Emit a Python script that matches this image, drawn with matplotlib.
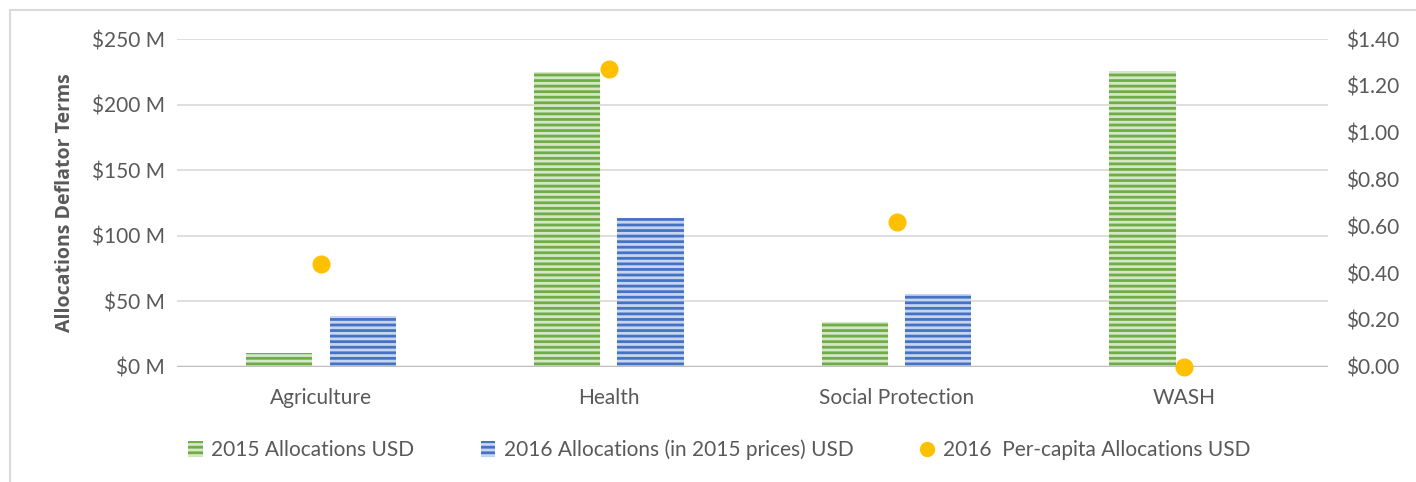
import numpy as np
import matplotlib.pyplot as plt
from matplotlib.lines import Line2D

# =========================
# DATA
# =========================
categories = ["Agriculture", "Health", "Social Protection", "WASH"]
alloc_2015 = [10.5, 225, 34, 226]          # $ M
alloc_2016 = [39, 113.5, 55.5, 0]          # $ M, in 2015 prices
per_capita_2016 = [0.44, 1.27, 0.62, 0.0]  # $

left_ticks = [0, 50, 100, 150, 200, 250]
right_ticks = [0.0, 0.2, 0.4, 0.6, 0.8, 1.0, 1.2, 1.4]

GREEN = "#70AD47"
GREEN_BG = "#D4E7C6"
BLUE = "#4472C4"
BLUE_BG = "#C8D5EF"
ORANGE = "#FFC000"
TXT = "#595959"
FS = 15

plt.rcParams["font.family"] = ["Lato", "DejaVu Sans"]
plt.rcParams["hatch.linewidth"] = 2.0

fig = plt.figure(figsize=(14.16, 4.82), dpi=100)
ax = fig.add_axes([0.125, 0.239, 0.813, 0.680])

x = np.arange(len(categories))
w = 0.23
off = 0.145

b1 = ax.bar(x - off, alloc_2015, w, color=GREEN_BG, edgecolor=GREEN,
            hatch="---", linewidth=0, zorder=3, label="2015 Allocations USD")
b2 = ax.bar(x + off, alloc_2016, w, color=BLUE_BG, edgecolor=BLUE,
            hatch="---", linewidth=0, zorder=3,
            label="2016 Allocations (in 2015 prices) USD")

ax.set_xlim(-0.5, len(categories) - 0.5)
ax.set_ylim(0, 250)
ax.set_yticks(left_ticks)
ax.set_yticklabels([f"${v} M" for v in left_ticks])
ax.set_xticks(x)
ax.set_xticklabels(categories)
ax.yaxis.grid(True, color="#D9D9D9", linewidth=1.2, zorder=0)
ax.set_axisbelow(True)
for s in ax.spines.values():
    s.set_visible(False)
ax.axhline(0, color="#BFBFBF", linewidth=2.5, zorder=4)
ax.tick_params(axis="both", length=0, labelsize=FS, colors=TXT)
ax.tick_params(axis="y", pad=9)
ax.tick_params(axis="x", pad=15)
ax.set_ylabel("Allocations Deflator Terms", fontsize=14, fontweight="bold",
              color=TXT, labelpad=12, family=["Open Sans", "DejaVu Sans"])

ax2 = ax.twinx()
ax2.plot(x, per_capita_2016, "o", color=ORANGE, markersize=12, zorder=5,
         clip_on=False)
ax2.set_ylim(0, 1.4)
ax2.set_yticks(right_ticks)
ax2.set_yticklabels([f"${v:.2f}" for v in right_ticks])
for s in ax2.spines.values():
    s.set_visible(False)
ax2.tick_params(axis="y", length=0, labelsize=FS, colors=TXT, pad=13)

dot = Line2D([], [], marker="o", linestyle="none", color=ORANGE, markersize=10)
fig.legend([b1, b2, dot],
           ["2015 Allocations USD", "2016 Allocations (in 2015 prices) USD",
            "2016  Per-capita Allocations USD"],
           loc="center", bbox_to_anchor=(0.508, 0.066), ncol=3, frameon=False,
           fontsize=FS, labelcolor=TXT, handlelength=0.7, handleheight=0.8,
           handletextpad=0.4, columnspacing=3.2)

# chart border (left and top edges)
fig.add_artist(Line2D([10 / 1416, 10 / 1416], [0, 1 - 10 / 482],
                      transform=fig.transFigure, color="#D9D9D9", linewidth=1.5))
fig.add_artist(Line2D([10 / 1416, 1], [1 - 10 / 482, 1 - 10 / 482],
                      transform=fig.transFigure, color="#D9D9D9", linewidth=1.5))

fig.savefig("out.png", dpi=100)
